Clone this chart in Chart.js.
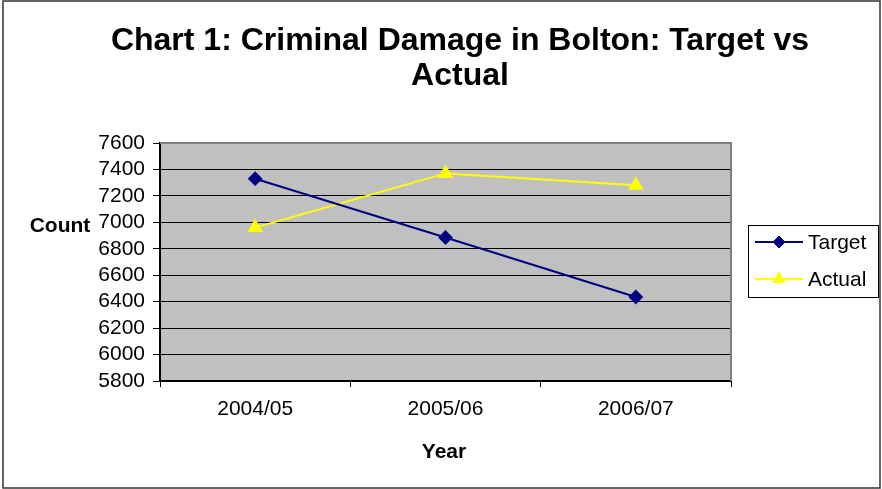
<!DOCTYPE html>
<html>
<head>
<meta charset="utf-8">
<script src="https://cdn.jsdelivr.net/npm/chart.js@4"></script>
<style>
  html, body { margin: 0; padding: 0; background: #fff; }
  #wrap { width: 882px; height: 489px; position: relative; }
</style>
</head>
<body>
<div id="wrap"><canvas id="c" width="882" height="489"></canvas></div>
<script>
const categories = ["2004/05", "2005/06", "2006/07"];
const targetValues = [7330, 6885, 6435];
const actualValues = [6960, 7370, 7280];
const seriesNames = ["Target", "Actual"];
const titleLines = ["Chart 1: Criminal Damage in Bolton: Target vs", "Actual"];
const yAxisTitle = "Count";
const xAxisTitle = "Year";

const FONT = "'Liberation Sans', Arial, sans-serif";

const decor = {
  id: 'decor',
  beforeDraw(chart) {
    const { ctx, chartArea: a } = chart;
    ctx.save();
    ctx.fillStyle = '#fff';
    ctx.fillRect(0, 0, chart.width, chart.height);
    ctx.fillStyle = '#C0C0C0';
    ctx.fillRect(a.left, a.top, a.right - a.left, a.bottom - a.top);
    ctx.restore();
  },
  afterDraw(chart) {
    const { ctx, chartArea: a } = chart;
    ctx.save();
    // plot border top/right grey
    ctx.strokeStyle = '#808080';
    ctx.lineWidth = 2;
    ctx.beginPath();
    ctx.moveTo(a.left, a.top); ctx.lineTo(a.right, a.top); ctx.lineTo(a.right, a.bottom);
    ctx.stroke();
    // outer border
    ctx.strokeStyle = '#333';
    ctx.lineWidth = 1.5;
    ctx.strokeRect(3, 1, 877, 487);
    // title
    ctx.fillStyle = '#000';
    ctx.textAlign = 'center';
    ctx.textBaseline = 'middle';
    ctx.font = "bold 32px " + FONT;
    ctx.fillText(titleLines[0], 460, 41);
    ctx.fillText(titleLines[1], 460, 76);
    // axis titles
    ctx.font = "bold 21px " + FONT;
    ctx.fillText(yAxisTitle, 60, 226);
    ctx.fillText(xAxisTitle, 444, 452);
    // legend
    const lx = 748, ly = 225, lw = 130, lh = 72;
    ctx.fillStyle = '#fff';
    ctx.fillRect(lx, ly, lw, lh);
    ctx.strokeStyle = '#000';
    ctx.lineWidth = 1;
    ctx.strokeRect(lx + 0.5, ly + 0.5, lw, lh);
    const items = chart.data.datasets;
    const rows = [242, 279];
    items.forEach((ds, i) => {
      const y = rows[i];
      ctx.strokeStyle = ds.borderColor;
      ctx.lineWidth = 2;
      ctx.beginPath();
      ctx.moveTo(755, y); ctx.lineTo(803, y);
      ctx.stroke();
      ctx.fillStyle = ds.borderColor;
      ctx.strokeStyle = ds.borderColor;
      ctx.lineWidth = 1;
      Chart.helpers.drawPoint(ctx, {
        pointStyle: ds.pointStyle, radius: ds.pointRadius, borderWidth: 1
      }, 779, y);
      ctx.fillStyle = '#000';
      ctx.textAlign = 'left';
      ctx.font = "21px " + FONT;
      ctx.fillText(ds.label, 808, y + 1);
    });
    ctx.restore();
  }
};

new Chart(document.getElementById('c'), {
  type: 'line',
  data: {
    labels: categories,
    datasets: [
      {
        label: seriesNames[0], data: targetValues,
        borderColor: '#000080', backgroundColor: '#000080',
        borderWidth: 2, pointStyle: 'rectRot', pointRadius: 6,
        pointBorderColor: '#000080', pointBackgroundColor: '#000080'
      },
      {
        label: seriesNames[1], data: actualValues,
        borderColor: '#FFFF00', backgroundColor: '#FFFF00',
        borderWidth: 2, pointStyle: 'triangle', pointRadius: 7,
        pointBorderColor: '#FFFF00', pointBackgroundColor: '#FFFF00'
      }
    ]
  },
  options: {
    responsive: false,
    animation: false,
    layout: { padding: { top: 143, left: 60, right: 151, bottom: 68 } },
    plugins: { legend: { display: false }, title: { display: false }, tooltip: { enabled: false } },
    scales: {
      x: {
        offset: true,
        afterFit(s) { s.height = 40; },
        grid: { offset: true, drawOnChartArea: false, color: '#000', tickLength: 6 },
        border: { color: '#000', width: 2 },
        ticks: { color: '#000', font: { family: FONT, size: 21 }, padding: 10, maxRotation: 0 }
      },
      y: {
        min: 5800, max: 7600,
        afterFit(s) { s.width = 100; },
        grid: { color: '#000', tickLength: 7, lineWidth: 1 },
        border: { color: '#000', width: 2 },
        ticks: {
          stepSize: 200, autoSkip: false, color: '#000',
          font: { family: FONT, size: 21 }, padding: 8,
          callback: (v) => String(v)
        }
      }
    }
  },
  plugins: [decor]
});
</script>
</body>
</html>
